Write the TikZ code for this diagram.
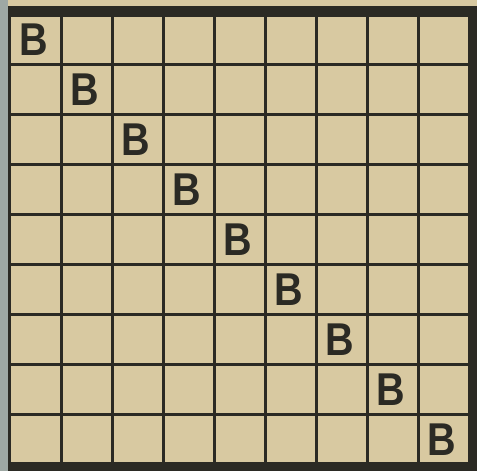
\documentclass[tikz,border=0pt]{standalone}
\usepackage{fontspec}
\setsansfont{Liberation Sans}
\usetikzlibrary{calc}
\definecolor{paper}{HTML}{D8C9A1}
\definecolor{ink}{HTML}{2B2A24}
\definecolor{backing}{HTML}{9EA8A4}
\tikzset{
  gridline/.style={draw=ink, line width=3pt},
  frame/.style={fill=ink},
  letter/.style={font=\sffamily\bfseries\fontsize{46}{46}\selectfont, text=ink,
    inner sep=0pt, xscale=0.86}
}
\begin{document}
\begin{tikzpicture}[x=1pt,y=-1pt]
  % Paper and backing strip.
  \fill[paper] (0,0) rectangle (477,471);
  \fill[backing] (0,0) rectangle (8,471);
  \useasboundingbox (0,0) rectangle (477,471);

  % Inner grid lines.
  \foreach \i in {1,...,8} {
    \draw[gridline] (10+51*\i,14) -- (10+51*\i,464);
    \draw[gridline] (10,14+50*\i) -- (469,14+50*\i);
  }

  % Outer frame: heavy top, right and bottom, thin left.
  \fill[frame] (8.5,6) rectangle (477,17);
  \fill[frame] (468,6) rectangle (477,471);
  \fill[frame] (8.5,462) rectangle (477,471);
  \draw[gridline] (9.8,6) -- (9.8,471);

  % Diagonal letters.
  \foreach \i in {0,...,8} {
    \node[letter] (b\i) at (34+51*\i,40+50*\i) {B};
  }
\end{tikzpicture}
\end{document}
